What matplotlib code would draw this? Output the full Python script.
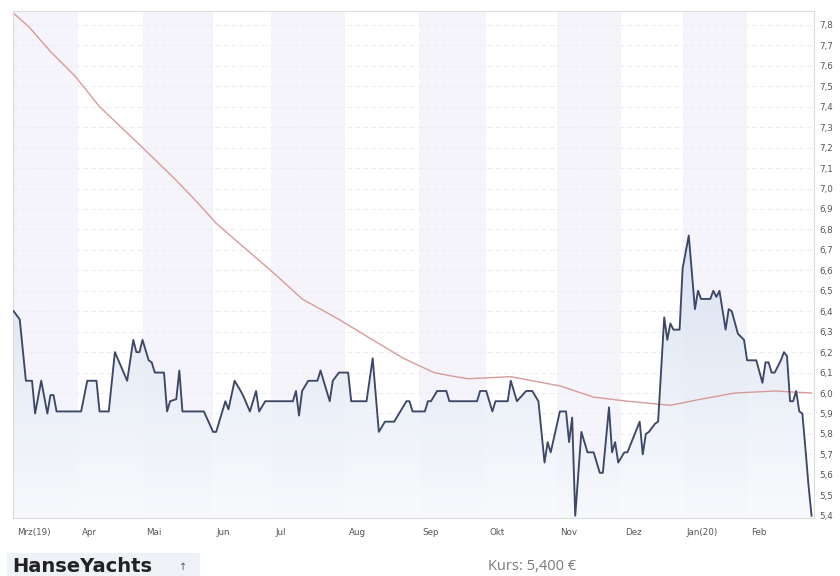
import numpy as np
import matplotlib.pyplot as plt
from matplotlib.colors import LinearSegmentedColormap
from matplotlib.patches import Rectangle

# HanseYachts share price, Mar 2019 - Feb 2020 (x = trading day index)
price_day = [0, 2, 4, 6, 7, 9, 11, 12, 13, 14, 22, 24, 27, 28, 31, 33, 37, 39, 40, 41,
             42, 44, 45, 46, 49, 50, 51, 53, 54, 55, 62, 65, 66, 69, 70, 72, 74, 75, 77, 79,
             80, 82, 91, 92, 93, 94, 96, 99, 100, 103, 104, 106, 109, 110, 115, 117, 119, 121, 124, 126,
             128, 129, 130, 134, 135, 136, 138, 141, 142, 151, 152, 154, 156, 157, 161, 162, 164, 167, 169, 171,
             173, 174, 175, 178, 180, 181, 182, 183, 185, 186, 187, 189, 191, 192, 194, 195, 196, 197, 199, 200,
             204, 205, 206, 207, 209, 210, 212, 213, 214, 215, 217, 218, 220, 222, 223, 224, 227, 228, 229, 230,
             232, 233, 234, 236, 238, 239, 242, 244, 245, 246, 247, 248, 250, 251, 252, 253, 254, 255, 256, 257,
             258, 259, 260]
price_val = [6.40, 6.36, 6.06, 6.06, 5.90, 6.06, 5.90, 5.99, 5.99, 5.91, 5.91, 6.06, 6.06, 5.91, 5.91, 6.20, 6.06, 6.26, 6.20, 6.20,
             6.26, 6.16, 6.15, 6.10, 6.10, 5.91, 5.96, 5.97, 6.11, 5.91, 5.91, 5.81, 5.81, 5.96, 5.92, 6.06, 6.01, 5.98, 5.91, 6.01,
             5.91, 5.96, 5.96, 6.01, 5.89, 6.01, 6.06, 6.06, 6.11, 5.96, 6.06, 6.10, 6.10, 5.96, 5.96, 6.17, 5.81, 5.86, 5.86, 5.91,
             5.96, 5.96, 5.91, 5.91, 5.96, 5.96, 6.01, 6.01, 5.96, 5.96, 6.01, 6.01, 5.91, 5.96, 5.96, 6.06, 5.96, 6.01, 6.01, 5.96,
             5.66, 5.76, 5.71, 5.91, 5.91, 5.76, 5.88, 5.40, 5.81, 5.76, 5.71, 5.71, 5.61, 5.61, 5.93, 5.71, 5.76, 5.66, 5.71, 5.71,
             5.86, 5.70, 5.80, 5.81, 5.85, 5.86, 6.37, 6.26, 6.34, 6.31, 6.31, 6.61, 6.77, 6.41, 6.50, 6.46, 6.46, 6.50, 6.47, 6.50,
             6.31, 6.41, 6.40, 6.29, 6.26, 6.16, 6.16, 6.05, 6.15, 6.15, 6.10, 6.10, 6.16, 6.20, 6.18, 5.96, 5.96, 6.01, 5.91, 5.90,
             5.73, 5.55, 5.40]

# 200-day moving average
ma_day = [0, 5, 12, 20, 28, 35, 42, 53, 60, 66, 76, 86, 94, 100, 106, 117, 127, 137, 142, 148, 155, 162, 169, 178, 189,
          200, 207, 214, 224, 235, 248, 260]
ma_val = [7.857, 7.79, 7.67, 7.55, 7.40, 7.30, 7.20, 7.04, 6.93, 6.83, 6.70, 6.57, 6.46, 6.41, 6.36, 6.26, 6.17, 6.10,
          6.085, 6.07, 6.075, 6.08, 6.06, 6.035, 5.98, 5.96, 5.95, 5.94, 5.97, 6.00, 6.01, 6.00]

month_start = [0, 21, 42, 65, 84, 108, 132, 154, 177, 198, 218, 239, 261]
month_label = ['Mrz(19)', 'Apr', 'Mai', 'Jun', 'Jul', 'Aug', 'Sep', 'Okt', 'Nov', 'Dez', 'Jan(20)', 'Feb']
y_ticks = [round(5.4 + 0.1 * i, 1) for i in range(25)]

ymin, ymax = 5.389, 7.868

fig = plt.figure(figsize=(8.4, 5.76), dpi=100)
ax = fig.add_axes([13 / 840, 1 - 518 / 576, 801 / 840, 507 / 576])

# alternating month bands
for i in range(0, len(month_start) - 1, 2):
    ax.axvspan(month_start[i], month_start[i + 1], color='#f4f4fa', lw=0, zorder=0)

# horizontal dashed grid
for v in y_ticks:
    ax.axhline(v, color='#ececf2', lw=0.8, ls=(0, (4, 3)), zorder=0.5)

# gradient area under price line
fill = ax.fill_between(price_day, price_val, ymin, color='none', lw=0)
cmap = LinearSegmentedColormap.from_list('f', ['#f8fafd', '#d6e0f0'])
grad = np.linspace(0, 1, 256).reshape(-1, 1)
im = ax.imshow(grad, extent=[0, 260, ymin, max(price_val)], origin='lower',
               aspect='auto', cmap=cmap, alpha=0.85, zorder=1)
im.set_clip_path(fill.get_paths()[0], transform=ax.transData)

ax.plot(ma_day, ma_val, color='#d99a9a', lw=1.0, zorder=2)
ax.plot(price_day, price_val, color='#3d4866', lw=1.35, zorder=3)

ax.set_xlim(-0.2, 260.8)
ax.set_ylim(ymin, ymax)

ax.yaxis.tick_right()
ax.set_yticks(y_ticks)
ax.set_yticklabels([f'{v:.1f}'.replace('.', ',') for v in y_ticks])
ax.set_xticks([m + 1.2 for m in month_start[:-1]])
ax.set_xticklabels(month_label, ha='left')
ax.tick_params(axis='both', length=0, labelsize=6.3, labelcolor='#555555')
ax.tick_params(axis='y', pad=4)
ax.tick_params(axis='x', pad=7)

for s in ax.spines.values():
    s.set_color('#dcdcdc')
    s.set_linewidth(0.8)

fig.patches.append(Rectangle((7 / 840, 0), 193 / 840, 23 / 576, transform=fig.transFigure,
                             facecolor='#eef1f6', edgecolor='none', zorder=0))
fig.text(12 / 840, 1 - 566 / 576, 'HanseYachts', fontsize=14, fontweight='bold',
         color='#222222', va='center', ha='left')
fig.text(183 / 840, 1 - 567 / 576, '↑', fontsize=7, color='#555555', va='center', ha='center')
fig.text(488 / 840, 1 - 567 / 576, 'Kurs: 5,400 €', fontsize=10.5, color='#7a7a7a',
         va='center', ha='left', family='Open Sans')

fig.savefig('out.png', dpi=100)
